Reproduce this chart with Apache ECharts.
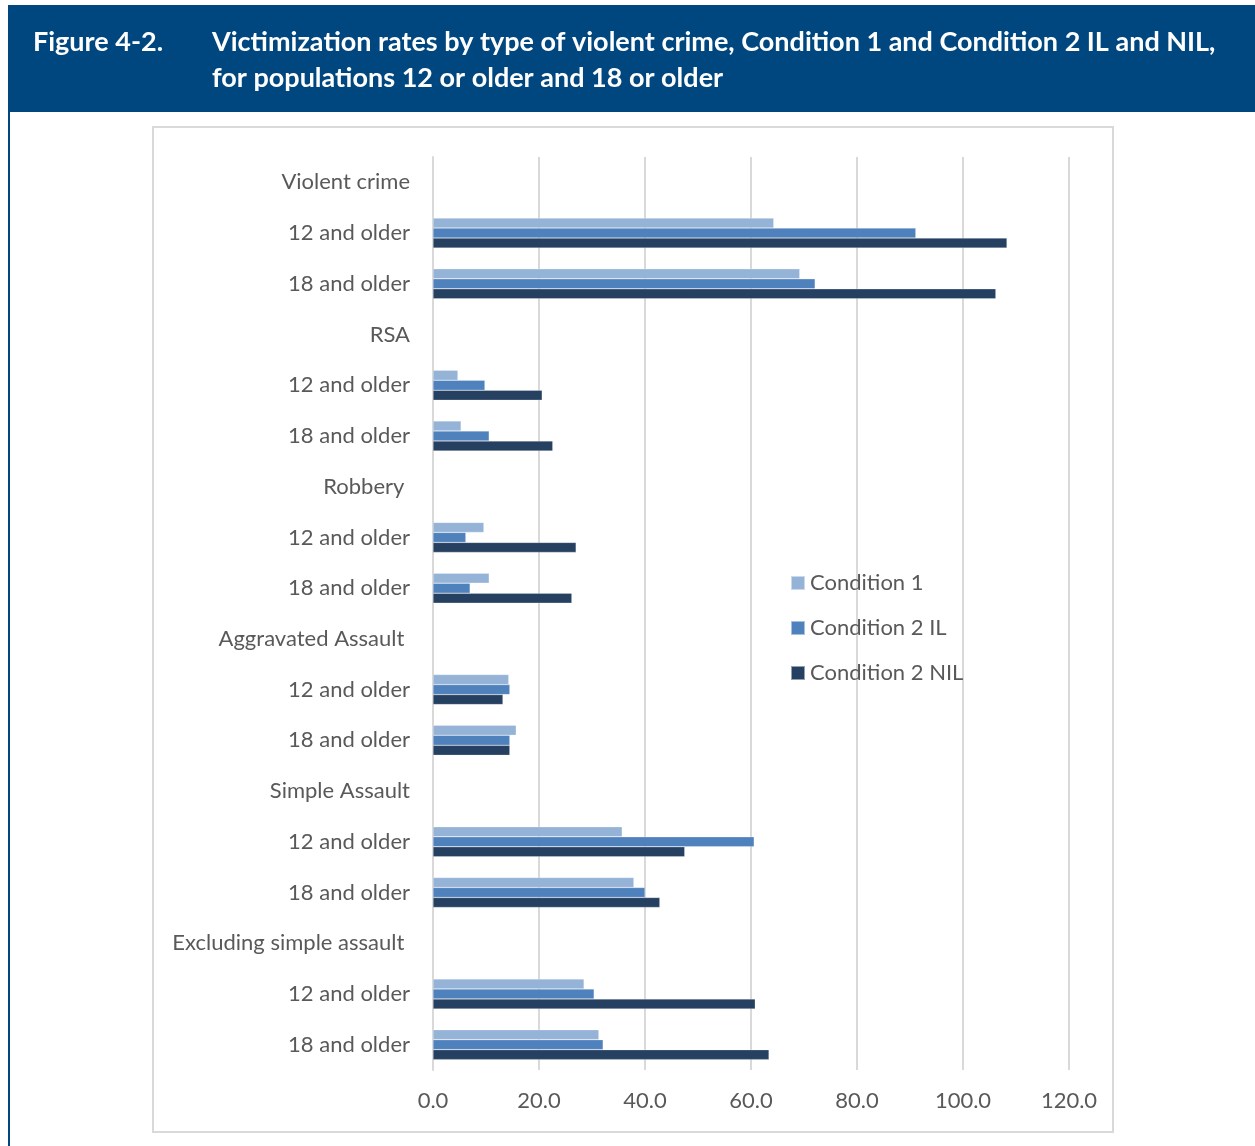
<!DOCTYPE html>
<html>
<head>
<meta charset="utf-8">
<script src="https://cdn.jsdelivr.net/npm/echarts@6/dist/echarts.min.js"></script>
<style>
html,body{margin:0;padding:0;background:#fff;}
#chart{width:1255px;height:1146px;}
</style>
</head>
<body>
<div id="chart"></div>
<script>
const categories = [
  "Violent crime", "12 and older", "18 and older",
  "RSA", "12 and older", "18 and older",
  "Robbery ", "12 and older", "18 and older",
  "Aggravated Assault ", "12 and older", "18 and older",
  "Simple Assault", "12 and older", "18 and older",
  "Excluding simple assault ", "12 and older", "18 and older"
];
const seriesNames = ["Condition 1", "Condition 2 IL", "Condition 2 NIL"];
const condition1 = [null, 64.3, 69.2, null, 4.7, 5.3, null, 9.6, 10.6, null, 14.3, 15.7, null, 35.7, 37.9, null, 28.5, 31.3];
const condition2IL = [null, 91.1, 72.1, null, 9.8, 10.6, null, 6.2, 7.0, null, 14.5, 14.5, null, 60.6, 40.0, null, 30.4, 32.1];
const condition2NIL = [null, 108.3, 106.2, null, 20.6, 22.6, null, 27.0, 26.2, null, 13.2, 14.5, null, 47.5, 42.8, null, 60.8, 63.4];
const axisMin = 0, axisMax = 120, axisStep = 20;
const figureLabel = "Figure 4-2.";
const titleLines = ["Victimization rates by type of violent crime, Condition 1 and Condition 2 IL and NIL,",
                    "for populations 12 or older and 18 or older"];

const colors = ["#95b3d7", "#4f81bd", "#254061"];
const textColor = "#595959";
const font = "Lato, 'Open Sans', sans-serif";

const chart = echarts.init(document.getElementById('chart'), null, {renderer: 'canvas'});
const values = [condition1, condition2IL, condition2NIL];

chart.setOption({
  animation: false,
  backgroundColor: '#ffffff',
  graphic: [
    {type: 'rect', z: -10, shape: {x: 8, y: 5, width: 1247, height: 107}, style: {fill: '#00467f'}},
    {type: 'rect', z: -10, shape: {x: 8, y: 112, width: 2, height: 1034}, style: {fill: '#00467f'}},
    {type: 'rect', z: -10, shape: {x: 153, y: 127, width: 960, height: 1005}, style: {fill: '#ffffff', stroke: '#d9d9d9', lineWidth: 2}},
    {type: 'text', z: 10, x: 33, y: 42, style: {text: figureLabel, fill: '#ffffff', font: "bold 27px " + font, textVerticalAlign: 'middle'}},
    {type: 'text', z: 10, x: 212, y: 42, style: {text: titleLines[0], fill: '#ffffff', font: "bold 27px " + font, textVerticalAlign: 'middle'}},
    {type: 'text', z: 10, x: 212, y: 78, style: {text: titleLines[1], fill: '#ffffff', font: "bold 27px " + font, textVerticalAlign: 'middle'}}
  ],
  legend: {
    orient: 'vertical',
    left: 785,
    top: 567,
    itemWidth: 14,
    itemHeight: 14,
    itemGap: 23,
    icon: 'rect',
    data: seriesNames,
    textStyle: {color: textColor, fontSize: 22, fontFamily: font}
  },
  grid: {left: 433, right: 186, top: 157, bottom: 76, containLabel: false},
  xAxis: {
    type: 'value',
    min: axisMin, max: axisMax, interval: axisStep,
    axisLine: {show: false},
    axisTick: {show: false},
    splitLine: {show: true, lineStyle: {color: '#d9d9d9', width: 2}},
    axisLabel: {color: textColor, fontSize: 22, fontFamily: font, margin: 20,
      formatter: v => v.toFixed(1)}
  },
  yAxis: {
    type: 'category',
    inverse: true,
    data: categories,
    axisLine: {show: true, lineStyle: {color: '#d9d9d9', width: 2}},
    axisTick: {show: false},
    axisLabel: {color: textColor, fontSize: 22, fontFamily: font, margin: 23}
  },
  series: seriesNames.map((name, i) => ({
    name: name,
    type: 'bar',
    data: values[i],
    barWidth: 10,
    barGap: '0%',
    itemStyle: {color: colors[i], borderColor: 'rgba(255,255,255,0.5)', borderWidth: 0.5}
  }))
});
</script>
</body>
</html>
